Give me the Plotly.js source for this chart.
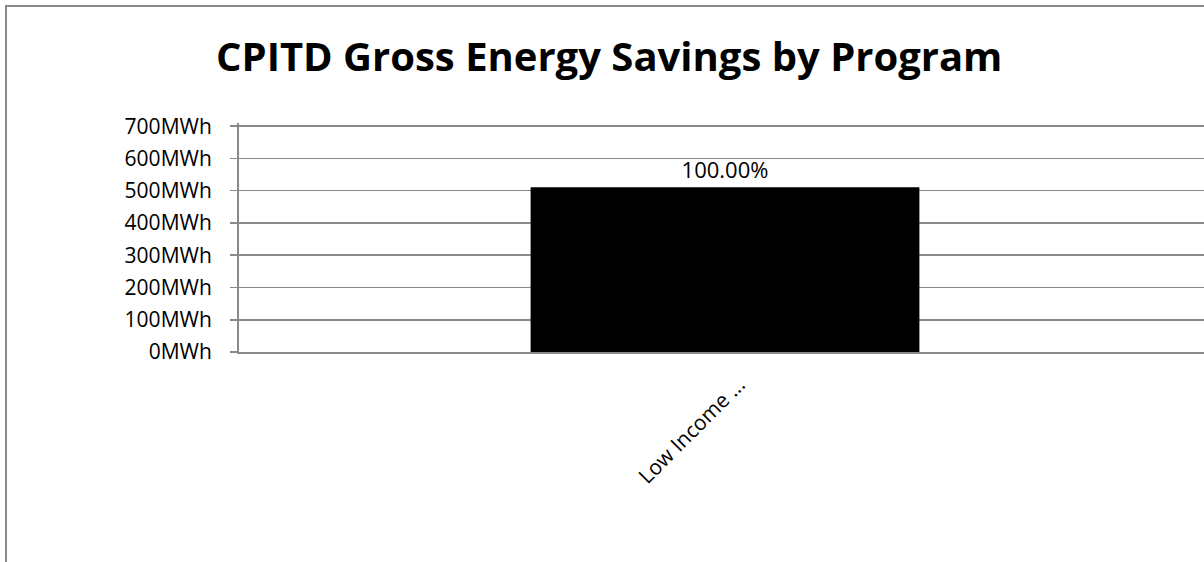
<!DOCTYPE html>
<html>
<head>
<meta charset="utf-8">
<script src="https://cdn.plot.ly/plotly-3.0.1.min.js"></script>
<style>
  html, body { margin: 0; padding: 0; background: #fff; }
  #wrap { position: relative; width: 1204px; height: 562px; overflow: hidden; }
  #chart { position: absolute; left: 0; top: 0; width: 1204px; height: 562px; }
  #frame { position: absolute; left: 5px; top: 5px; width: 1300px; height: 700px;
           border-left: 2px solid #8a8a8a; border-top: 2px solid #8a8a8a; pointer-events: none; }
</style>
</head>
<body>
<div id="wrap">
  <div id="chart"></div>
  <div id="frame"></div>
</div>
<script>
const categories = ["Low Income ..."];
const savingsMWh = [511];
const barLabels = ["100.00%"];
const chartTitle = "CPITD Gross Energy Savings by Program";
const yTickValues = [0, 100, 200, 300, 400, 500, 600, 700];
const yTickLabels = ["0MWh", "100MWh", "200MWh", "300MWh", "400MWh", "500MWh", "600MWh", "700MWh"];

const font = "'Open Sans', 'Noto Sans', sans-serif";

const trace = {
  type: "bar",
  x: categories,
  y: savingsMWh,
  text: barLabels,
  textposition: "outside",
  cliponaxis: false,
  textfont: { family: font, size: 22, color: "#000" },
  marker: { color: "#000", line: { width: 0 } },
  width: 0.4,
  hoverinfo: "skip"
};

const layout = {
  width: 1204,
  height: 562,
  margin: { l: 239, r: 0, t: 123, b: 210 },
  paper_bgcolor: "#fff",
  plot_bgcolor: "#fff",
  showlegend: false,
  title: {
    text: "<b>" + chartTitle + "</b>",
    font: { family: font, size: 40, color: "#000" },
    x: 0.506, xanchor: "center",
    y: 0.898, yanchor: "middle"
  },
  xaxis: {
    type: "category",
    range: [-0.5, 0.4928],
    showline: true,
    linecolor: "#8a8a8a",
    linewidth: 2,
    ticks: "",
    tickangle: -45,
    ticklabelstandoff: 10,
    ticklabelshift: 14,
    tickfont: { family: font, size: 21, color: "#000" },
    showgrid: false,
    fixedrange: true
  },
  yaxis: {
    range: [0, 710],
    tickmode: "array",
    tickvals: yTickValues,
    ticktext: yTickLabels,
    showline: true,
    linecolor: "#8a8a8a",
    linewidth: 2,
    ticks: "outside",
    ticklen: 7,
    tickwidth: 1.5,
    tickcolor: "#8a8a8a",
    ticklabelstandoff: 14,
    showgrid: true,
    gridcolor: "#8a8a8a",
    gridwidth: 1.5,
    zeroline: false,
    tickfont: { family: font, size: 21, color: "#000" },
    fixedrange: true
  }
};

Plotly.newPlot("chart", [trace], layout, { staticPlot: true, displayModeBar: false });
</script>
</body>
</html>
